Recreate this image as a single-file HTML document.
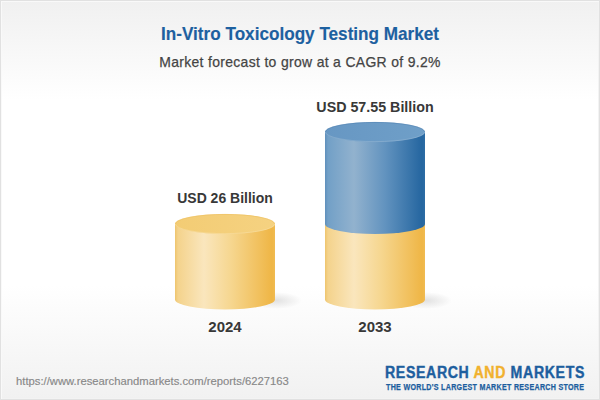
<!DOCTYPE html>
<html><head><meta charset="utf-8">
<style>
html,body{margin:0;padding:0;}
body{width:600px;height:400px;overflow:hidden;position:relative;font-family:"Liberation Sans",sans-serif;
background:linear-gradient(to bottom,#f0f0f0 0px,#ffffff 100px,#ffffff 285px,#f1f1f1 400px);}
.frame{position:absolute;left:0;top:0;width:600px;height:400px;box-sizing:border-box;border:1px solid #e1e1e1;box-shadow:inset 1px 1px 0 #f9f9f9,inset -1px -1px 0 #f3f3f3;}
.t{position:absolute;white-space:nowrap;line-height:1;}
.c{left:0;width:600px;text-align:center;}
#title{top:24.2px;font-size:19px;font-weight:bold;color:#1d60a0;-webkit-text-stroke:0.15px #1d60a0;transform:scaleX(0.902);transform-origin:300.5px 0;}
#sub{top:53.9px;font-size:15px;letter-spacing:0.35px;color:#444;-webkit-text-stroke:0.25px #444;transform:scaleX(0.93);transform-origin:300px 0;}
.lab{font-size:15px;font-weight:bold;color:#383838;text-align:center;width:200px;}
#url{left:15.7px;top:376.1px;font-size:11.5px;color:#888;-webkit-text-stroke:0.15px #888;transform:scaleX(0.979);transform-origin:0 0;}
#logo1{left:385.4px;top:364.7px;font-size:15.6px;font-weight:bold;letter-spacing:0.7px;color:#1d5e9e;-webkit-text-stroke:0.4px #1d5e9e;transform:scaleX(0.907);transform-origin:0 0;}
#logo2{left:385.8px;top:382.5px;font-size:8.3px;font-weight:bold;letter-spacing:0.35px;color:#1d5e9e;-webkit-text-stroke:0.25px #1d5e9e;transform:scaleX(0.857);transform-origin:0 0;}
svg{position:absolute;left:0;top:0;}
</style></head>
<body>
<svg width="600" height="400" viewBox="0 0 600 400">
<defs>
<linearGradient id="ys" x1="0" x2="1" y1="0" y2="0">
<stop offset="0" stop-color="#eec46c"/>
<stop offset="0.03" stop-color="#f4d38c"/>
<stop offset="0.29" stop-color="#fae6bd"/>
<stop offset="0.55" stop-color="#f6d791"/>
<stop offset="0.97" stop-color="#efb646"/>
<stop offset="1" stop-color="#f0bb52"/>
</linearGradient>
<linearGradient id="bs" x1="0" x2="1" y1="0" y2="0">
<stop offset="0" stop-color="#5f8fbb"/>
<stop offset="0.03" stop-color="#72a0c7"/>
<stop offset="0.29" stop-color="#92b2ce"/>
<stop offset="0.6" stop-color="#6293bf"/>
<stop offset="0.97" stop-color="#2566a0"/>
<stop offset="1" stop-color="#2d6ca4"/>
</linearGradient>
<linearGradient id="yt" x1="0" x2="1" y1="0" y2="0">
<stop offset="0" stop-color="#f3cc74"/>
<stop offset="1" stop-color="#f5d281"/>
</linearGradient>
<linearGradient id="bt" x1="0" x2="1" y1="0" y2="0">
<stop offset="0" stop-color="#6797c3"/>
<stop offset="1" stop-color="#6f9fc8"/>
</linearGradient>
<radialGradient id="sh" cx="0.5" cy="0.5" r="0.5">
<stop offset="0" stop-color="#000" stop-opacity="0.11"/>
<stop offset="1" stop-color="#000" stop-opacity="0"/>
</radialGradient>
</defs>
<!-- shadows -->
<ellipse cx="276" cy="300.5" rx="26" ry="8.5" fill="url(#sh)"/>
<ellipse cx="426" cy="300.5" rx="26" ry="8.5" fill="url(#sh)"/>
<!-- yellow cylinder 2024 -->
<path d="M175 224 L175 299.5 A50 10 0 0 0 275 299.5 L275 224 Z" fill="url(#ys)"/>
<ellipse cx="225" cy="224" rx="50" ry="10" fill="url(#yt)"/>
<path d="M175.4 224 A49.6 9.6 0 0 1 274.6 224" fill="none" stroke="#edc060" stroke-width="0.8" stroke-opacity="0.8"/>
<path d="M175.4 224 A49.6 9.6 0 0 0 274.6 224" fill="none" stroke="#f8dfa8" stroke-width="0.9" stroke-opacity="0.6"/>
<!-- 2033 -->
<path d="M325 224 L325 299.5 A50 10 0 0 0 425 299.5 L425 224 Z" fill="url(#ys)"/>
<path d="M325 132 L325 224 A50 10 0 0 0 425 224 L425 132 Z" fill="url(#bs)"/>
<ellipse cx="375" cy="132" rx="50" ry="10" fill="url(#bt)"/>
<path d="M325.4 132 A49.6 9.6 0 0 1 424.6 132" fill="none" stroke="#5485b3" stroke-width="0.8" stroke-opacity="0.8"/>
<path d="M325.4 132 A49.6 9.6 0 0 0 424.6 132" fill="none" stroke="#9bbad5" stroke-width="0.9" stroke-opacity="0.55"/>
</svg>
<div class="frame"></div>
<div class="t c" id="title">In-Vitro Toxicology Testing Market</div>
<div class="t c" id="sub">Market forecast to grow at a CAGR of 9.2%</div>
<div class="t lab" style="left:275px;top:98.6px;transform:scaleX(0.951);">USD 57.55 Billion</div>
<div class="t lab" style="left:124.85px;top:190.2px;transform:scaleX(0.932);">USD 26 Billion</div>
<div class="t lab" style="left:125px;top:319.4px;font-size:15.3px;transform:scaleX(0.98);">2024</div>
<div class="t lab" style="left:275px;top:319.4px;font-size:15.3px;transform:scaleX(0.98);">2033</div>
<div class="t" id="url">https://www.researchandmarkets.com/reports/6227163</div>
<div class="t" id="logo1">RESEARCH <span style="color:#f1b12e;-webkit-text-stroke:0.4px #f1b12e">AND</span> MARKETS</div>
<div class="t" id="logo2">THE WORLD'S LARGEST MARKET RESEARCH STORE</div>
</body></html>
